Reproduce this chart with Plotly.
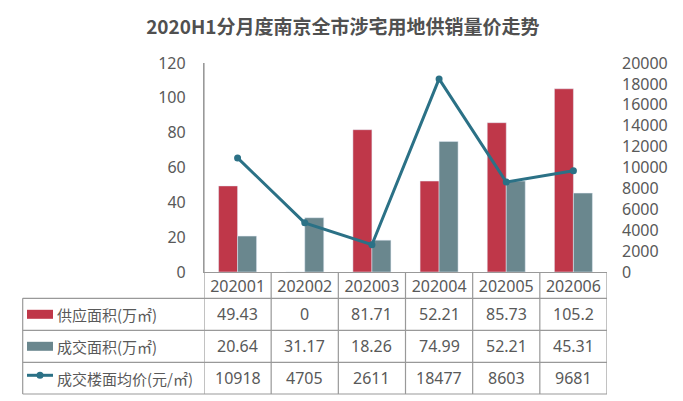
import plotly.graph_objects as go

months = ["202001", "202002", "202003", "202004", "202005", "202006"]
supply = [49.43, 0, 81.71, 52.21, 85.73, 105.2]
deal = [20.64, 31.17, 18.26, 74.99, 52.21, 45.31]
price = [10918, 4705, 2611, 18477, 8603, 9681]

series_names = ["供应面积(万㎡)", "成交面积(万㎡)", "成交楼面均价(元/㎡)"]
title_text = "2020H1分月度南京全市涉宅用地供销量价走势"

RED = "#bf3749"
GRAY = "#6a878e"
TEAL = "#2b7186"
TXT = "#595959"
GRID = "#999999"
NUMFONT = "Noto Sans, Noto Sans CJK SC"
CJKFONT = "Noto Sans CJK SC, Noto Sans"

W, H = 683, 401
L, R, T, B = 204, 76, 63, 129
pw = W - L - R
ph = H - T - B


def py(pix):  # pixel y -> paper y
    return (H - B - pix) / ph


def px(pix):  # pixel x -> paper x
    return (pix - L) / pw


xpos = list(range(len(months)))

fig = go.Figure()
fig.add_trace(go.Bar(x=xpos, y=supply, name=series_names[0], marker_color=RED, yaxis="y"))
fig.add_trace(go.Bar(x=xpos, y=deal, name=series_names[1], marker_color=GRAY, yaxis="y"))
fig.add_trace(go.Scatter(x=xpos, y=price, name=series_names[2], yaxis="y2",
                         mode="lines+markers",
                         line=dict(color=TEAL, width=3),
                         marker=dict(color=TEAL, size=7)))

shapes = []
row_lines = [298.3, 330.3, 362.3, 394]
for yy in row_lines:
    shapes.append(dict(type="line", xref="paper", yref="paper",
                       x0=px(22.7), x1=1, y0=py(yy), y1=py(yy),
                       line=dict(color=GRID, width=1.2)))
# left border of legend column
shapes.append(dict(type="line", xref="paper", yref="paper",
                   x0=px(22.7), x1=px(22.7), y0=py(298.3), y1=py(394),
                   line=dict(color=GRID, width=1.2)))
# column dividers (category boundaries)
for k in range(len(months) + 1):
    xk = k - 0.5
    shapes.append(dict(type="line", xref="x", yref="paper",
                       x0=xk, x1=xk, y0=0 if k > 0 else 1, y1=py(394),
                       line=dict(color=GRID, width=1.2)))

# legend swatches
row_centers = [314.3, 346.3, 378.3]
shapes.append(dict(type="rect", xref="paper", yref="paper",
                   x0=px(27), x1=px(53), y0=py(row_centers[0] - 4.5), y1=py(row_centers[0] + 4.5),
                   fillcolor=RED, line=dict(width=0)))
shapes.append(dict(type="rect", xref="paper", yref="paper",
                   x0=px(27), x1=px(53), y0=py(row_centers[1] - 4.5), y1=py(row_centers[1] + 4.5),
                   fillcolor=GRAY, line=dict(width=0)))
shapes.append(dict(type="line", xref="paper", yref="paper",
                   x0=px(27), x1=px(53), y0=py(row_centers[2] - 3), y1=py(row_centers[2] - 3),
                   line=dict(color=TEAL, width=3)))
shapes.append(dict(type="circle", xref="paper", yref="paper",
                   x0=px(36.5), x1=px(43.5), y0=py(row_centers[2] - 6.5), y1=py(row_centers[2] + 0.5),
                   fillcolor=TEAL, line=dict(width=0)))

annotations = []
rows = [supply, deal, price]
for r, vals in enumerate(rows):
    annotations.append(dict(xref="paper", yref="paper", x=px(55), y=py(row_centers[r]),
                            text=series_names[r], showarrow=False, xanchor="left", yanchor="middle",
                            font=dict(family=CJKFONT, size=15, color=TXT)))
    for i, v in zip(xpos, vals):
        annotations.append(dict(xref="x", yref="paper", x=i, y=py(row_centers[r]),
                                text="{:g}".format(v), showarrow=False,
                                xanchor="center", yanchor="middle",
                                font=dict(family=NUMFONT, size=16, color=TXT)))

fig.update_layout(
    width=W, height=H,
    margin=dict(l=L, r=R, t=T, b=B, pad=0),
    paper_bgcolor="white", plot_bgcolor="white",
    showlegend=False,
    barmode="group", bargap=0.434, bargroupgap=0,
    title=dict(text="<b>" + title_text + "</b>", x=0.502, xanchor="center", y=1 - 27 / H, yanchor="middle",
               font=dict(family=CJKFONT, size=19, color="#505050")),
    xaxis=dict(range=[-0.5, len(months) - 0.5], tickmode="array", tickvals=xpos, ticktext=months,
               showgrid=False, showline=True, linecolor=GRID, linewidth=1.2,
               ticks="", tickfont=dict(family=NUMFONT, size=16, color=TXT), zeroline=False),
    yaxis=dict(range=[0, 120], dtick=20, showgrid=False, showline=True, linecolor=GRID, linewidth=1.2,
               ticks="", ticklabelstandoff=14, zeroline=False,
               tickfont=dict(family=NUMFONT, size=16, color=TXT)),
    yaxis2=dict(range=[0, 20000], dtick=2000, tickformat="d", overlaying="y", side="right", showgrid=False,
                showline=False, ticks="", ticklabelstandoff=14, zeroline=False,
                tickfont=dict(family=NUMFONT, size=16, color=TXT)),
    shapes=shapes,
    annotations=annotations,
)

fig.write_html("out.html", config={"displayModeBar": False},
               post_script="document.body.style.margin='0';document.body.style.overflow='hidden';")
